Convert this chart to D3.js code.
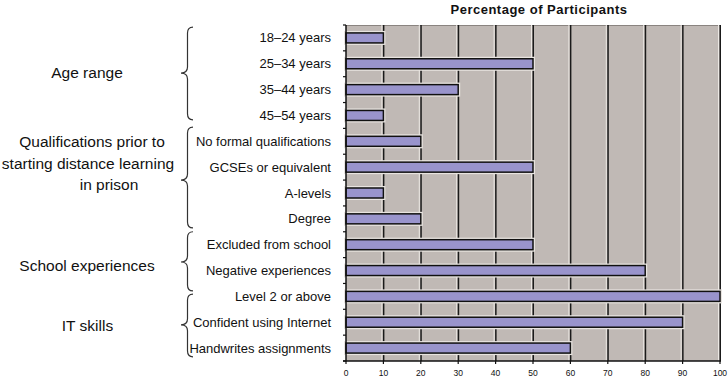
<!DOCTYPE html>
<html><head><meta charset="utf-8">
<script src="https://cdn.jsdelivr.net/npm/d3@7"></script>
<style>html,body{margin:0;padding:0;background:#fff}svg{display:block}</style>
</head><body>
<script>
const categories = ["18\u201324 years","25\u201334 years","35\u201344 years","45\u201354 years",
  "No formal qualifications","GCSEs or equivalent","A-levels","Degree",
  "Excluded from school","Negative experiences",
  "Level 2 or above","Confident using Internet","Handwrites assignments"];
const values = [10,50,30,10,20,50,10,20,50,80,100,90,60];
const groupNames = ["Age range","Qualifications prior to|starting distance learning|in prison","School experiences","IT skills"];
const xTicks = [0,10,20,30,40,50,60,70,80,90,100];
const title = "Percentage of Participants";

const W = 728, H = 380;
const svg = d3.select("body").append("svg").attr("width", W).attr("height", H);
const font = "'Liberation Sans', Arial, sans-serif";

const x0 = 346, x1 = 720, yTop = 25, yBot = 361;
const x = d3.scaleLinear().domain([0,100]).range([x0, x1]);
const y = d3.scaleBand().domain(categories).range([yTop, yBot]).paddingInner(0.613).paddingOuter(0.3065);
const yIdx = d3.scaleLinear().domain([0, categories.length]).range([yTop, yBot]);

// background
svg.append("rect").attr("x", x0).attr("y", yTop).attr("width", x1 - x0).attr("height", yBot - yTop).attr("fill", "#c0b9b5");
svg.append("line").attr("x1", x0).attr("x2", x1).attr("y1", yTop + 0.5).attr("y2", yTop + 0.5).attr("stroke", "#8a8480").attr("stroke-width", 1);

// gridlines
const grid = svg.append("g");
xTicks.filter(t => t > 0).forEach(t => {
  grid.append("line").attr("x1", x(t) - 1.5).attr("x2", x(t) - 1.5).attr("y1", yTop).attr("y2", yBot)
    .attr("stroke", "#ece8e4").attr("stroke-width", 1);
  grid.append("line").attr("x1", x(t) + 0.25).attr("x2", x(t) + 0.25).attr("y1", yTop).attr("y2", yBot)
    .attr("stroke", "#1a1a1a").attr("stroke-width", 1.5);
});

// bars
const bars = svg.append("g");
bars.selectAll("rect.halo").data(values).join("rect").attr("class","halo")
  .attr("x", x(0)).attr("y", (d,i) => y(categories[i]))
  .attr("width", d => x(d) - x(0)).attr("height", y.bandwidth())
  .attr("fill", "none").attr("stroke", "#e8e4e0").attr("stroke-width", 4);
bars.selectAll("rect.bar").data(values).join("rect").attr("class","bar")
  .attr("x", x(0)).attr("y", (d,i) => y(categories[i]))
  .attr("width", d => x(d) - x(0)).attr("height", y.bandwidth())
  .attr("fill", "#9994cc").attr("stroke", "#111").attr("stroke-width", 1.5);

// axes
const ax = svg.append("g");
ax.append("line").attr("x1", x0).attr("x2", x0).attr("y1", yTop).attr("y2", yBot + 0.5).attr("stroke", "#111").attr("stroke-width", 1.5);
ax.append("line").attr("x1", x0 - 3).attr("x2", x1 + 1).attr("y1", yBot).attr("y2", yBot).attr("stroke", "#111").attr("stroke-width", 1.5);
d3.range(categories.length + 1).forEach(i => {
  ax.append("line").attr("x1", x0 - 3).attr("x2", x0).attr("y1", yIdx(i)).attr("y2", yIdx(i)).attr("stroke", "#111").attr("stroke-width", 1.2);
});
ax.selectAll("line.xt").data(xTicks).join("line").attr("class","xt")
  .attr("x1", d => x(d)).attr("x2", d => x(d)).attr("y1", yBot).attr("y2", yBot + 3)
  .attr("stroke", "#111").attr("stroke-width", 1.2);
ax.selectAll("text.xl").data(xTicks).join("text").attr("class","xl")
  .attr("x", d => x(d)).attr("y", 376).attr("text-anchor", "middle")
  .attr("font-family", font).attr("font-size", 8.5).attr("fill", "#111").text(d => d);

// category labels
svg.selectAll("text.cat").data(categories).join("text").attr("class","cat")
  .attr("x", 331).attr("y", d => y(d) + y.bandwidth() / 2 + 4.5)
  .attr("text-anchor", "end").attr("font-family", font).attr("font-size", 13).attr("fill", "#111").text(d => d);

// title
svg.append("text").attr("x", 539).attr("y", 13.5).attr("text-anchor", "middle")
  .attr("font-family", font).attr("font-size", 13).attr("font-weight", "bold").attr("letter-spacing", 0.5)
  .attr("fill", "#111").text(title);

// braces & group labels (layout in band units)
const braceLayout = [
  {from: 0.08, tip: 1.86, to: 3.67, label: 1.82, lx: [87]},
  {from: 3.95, tip: 6.0, to: 7.85, label: 5.34, lx: [92, 88, 109]},
  {from: 8.0, tip: 9.17, to: 10.29, label: 9.32, lx: [87]},
  {from: 10.41, tip: 11.6, to: 12.84, label: 11.64, lx: [87.5]}
];
const xv = 187.5, xt = 181, xr = 193, r = 6;
braceLayout.forEach((b, gi) => {
  const y0 = yIdx(b.from), ym = yIdx(b.tip), y1 = yIdx(b.to);
  const p = `M${xr},${y0} Q${xv},${y0} ${xv},${y0 + r} L${xv},${ym - r} Q${xv},${ym} ${xt},${ym} Q${xv},${ym} ${xv},${ym + r} L${xv},${y1 - r} Q${xv},${y1} ${xr},${y1}`;
  svg.append("path").attr("d", p).attr("fill", "none").attr("stroke", "#333").attr("stroke-width", 1.2);
  const lines = groupNames[gi].split("|");
  const lh = 21.5;
  const cy = yIdx(b.label);
  lines.forEach((ln, li) => {
    svg.append("text").attr("x", b.lx[li]).attr("y", cy + (li - (lines.length - 1) / 2) * lh + 5.5)
      .attr("text-anchor", "middle").attr("font-family", font).attr("font-size", 15.5).attr("fill", "#111").text(ln);
  });
});
</script>
</body></html>
